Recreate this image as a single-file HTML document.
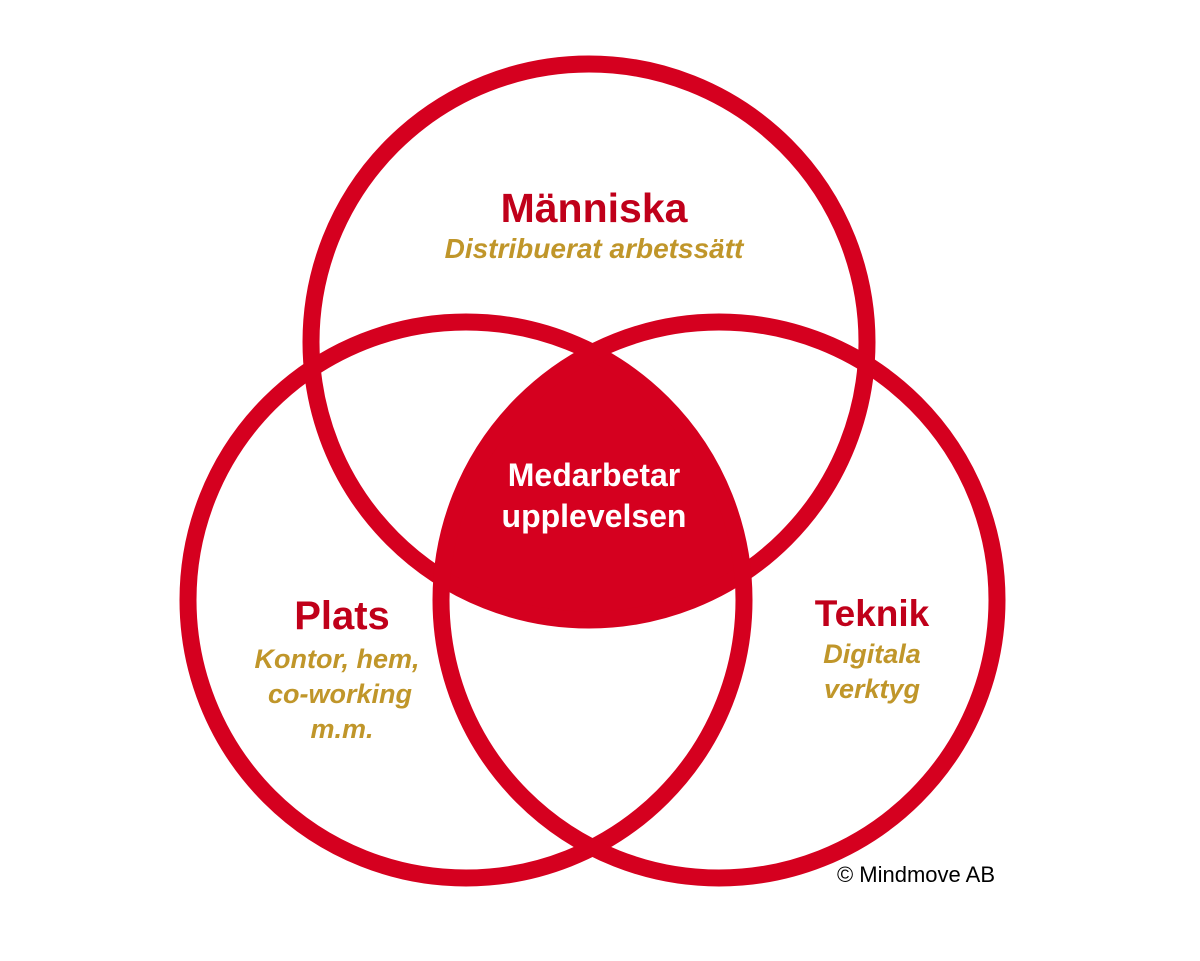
<!DOCTYPE html>
<html><head><style>body{margin:0;background:#fff}</style></head><body>
<svg width="1200" height="956" viewBox="0 0 1200 956" xmlns="http://www.w3.org/2000/svg">
<defs>
<clipPath id="a"><circle cx="589" cy="342" r="278"/></clipPath>
<clipPath id="b"><circle cx="466" cy="600" r="278"/></clipPath>
</defs>
<g clip-path="url(#a)"><g clip-path="url(#b)"><circle cx="719" cy="600" r="278" fill="#d5001f"/></g></g>
<g fill="none" stroke="#d5001f" stroke-width="17">
<circle cx="589" cy="342" r="278"/>
<circle cx="466" cy="600" r="278"/>
<circle cx="719" cy="600" r="278"/>
</g>
<g font-family="Liberation Sans, sans-serif" font-weight="bold" text-anchor="middle">
<text x="594" y="222" font-size="41" fill="#c0001a">Människa</text>
<text x="594" y="258" font-size="28" font-style="italic" fill="#c0962a">Distribuerat arbetssätt</text>
<text x="594" y="486" font-size="32" fill="#fff">Medarbetar</text>
<text x="594" y="527" font-size="32" fill="#fff">upplevelsen</text>
<text x="342" y="629" font-size="40" fill="#c0001a">Plats</text>
<text x="337" y="668" font-size="27" font-style="italic" fill="#c0962a">Kontor, hem,</text>
<text x="340" y="703" font-size="27" font-style="italic" fill="#c0962a">co-working</text>
<text x="342" y="738" font-size="27" font-style="italic" fill="#c0962a">m.m.</text>
<text x="872" y="626" font-size="37" fill="#c0001a">Teknik</text>
<text x="872" y="663" font-size="27" font-style="italic" fill="#c0962a">Digitala</text>
<text x="872" y="698" font-size="27" font-style="italic" fill="#c0962a">verktyg</text>
</g>
<text x="916" y="882" font-family="Liberation Sans, sans-serif" font-size="22" text-anchor="middle" fill="#000">© Mindmove AB</text>
</svg>
</body></html>
